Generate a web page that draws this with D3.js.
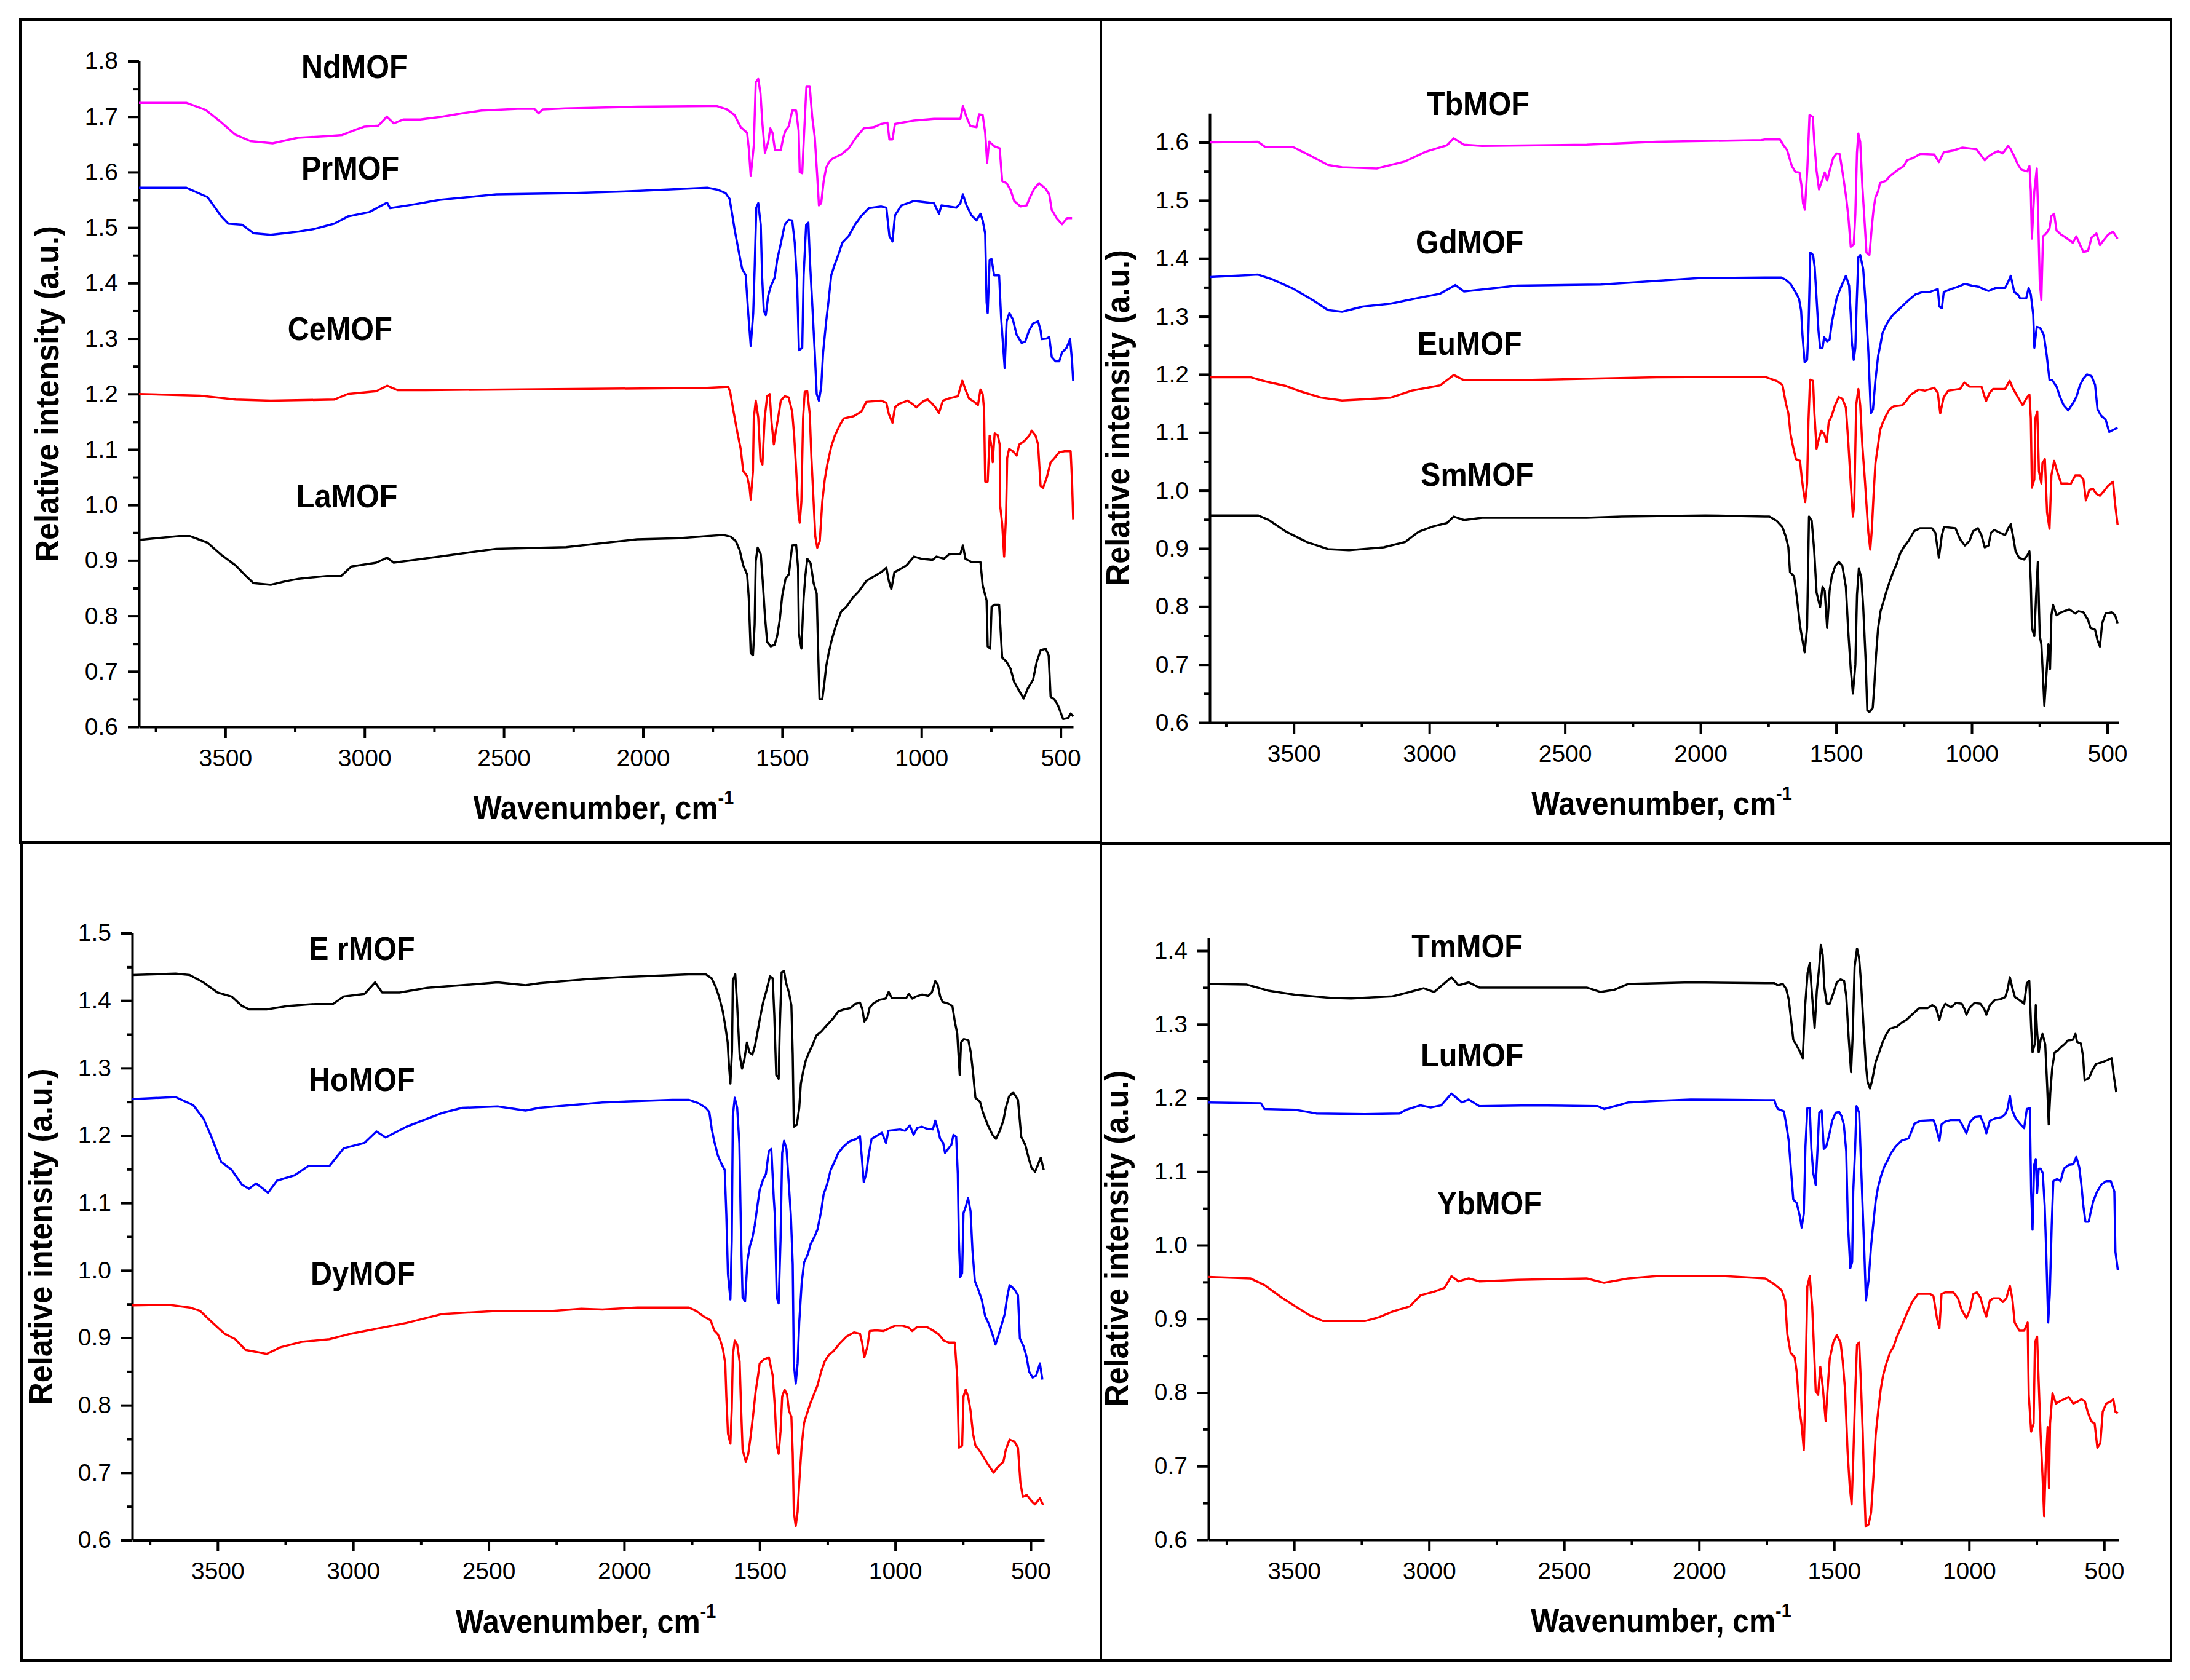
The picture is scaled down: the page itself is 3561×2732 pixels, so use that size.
<!DOCTYPE html>
<html>
<head>
<meta charset="utf-8">
<script src="https://cdn.jsdelivr.net/npm/d3@7"></script>
<style>
  body { margin: 0; background: #fff; }
  svg { display: block; }
</style>
</head>
<body>
<script>
// FTIR spectra of the lanthanide MOFs, four panels
// each series: [wavenumber (cm-1), relative intensity]

var xTicks = [3500, 3000, 2500, 2000, 1500, 1000, 500];
var xMinor = [3750, 3250, 2750, 2250, 1750, 1250, 750];
var yTicksA = [0.6, 0.7, 0.8, 0.9, 1.0, 1.1, 1.2, 1.3, 1.4, 1.5, 1.6, 1.7, 1.8];
var yTicksB = [0.6, 0.7, 0.8, 0.9, 1.0, 1.1, 1.2, 1.3, 1.4, 1.5, 1.6];
var yTicksC = [0.6, 0.7, 0.8, 0.9, 1.0, 1.1, 1.2, 1.3, 1.4, 1.5];
var yTicksD = [0.6, 0.7, 0.8, 0.9, 1.0, 1.1, 1.2, 1.3, 1.4];

var namesA = ["NdMOF", "PrMOF", "CeMOF", "LaMOF"];
var namesB = ["TbMOF", "GdMOF", "EuMOF", "SmMOF"];
var namesC = ["E rMOF", "HoMOF", "DyMOF"];
var namesD = ["TmMOF", "LuMOF", "YbMOF"];

var xTitle = "Wavenumber, cm";
var xTitleSup = "-1";
var yTitle = "Relative intensity (a.u.)";

var ndMOF = [[3810,1.725],[3640,1.725],[3570,1.712],[3515,1.690],[3465,1.668],[3410,1.656],[3330,1.652],[3240,1.662],[3130,1.665],[3080,1.667],[3040,1.675],[3000,1.682],[2950,1.684],[2920,1.700],[2895,1.688],[2860,1.695],[2800,1.695],[2720,1.700],[2650,1.706],[2580,1.711],[2450,1.714],[2390,1.714],[2375,1.706],[2360,1.713],[2280,1.715],[2020,1.718],[1770,1.719],[1734,1.719],[1698,1.713],[1671,1.703],[1649,1.681],[1626,1.671],[1620,1.643],[1613,1.593],[1602,1.648],[1595,1.762],[1586,1.768],[1578,1.742],[1571,1.687],[1562,1.635],[1550,1.655],[1543,1.679],[1535,1.671],[1526,1.640],[1505,1.640],[1496,1.663],[1488,1.675],[1476,1.683],[1464,1.711],[1450,1.711],[1441,1.675],[1437,1.600],[1428,1.598],[1422,1.663],[1413,1.754],[1401,1.754],[1392,1.699],[1383,1.663],[1374,1.592],[1368,1.540],[1360,1.544],[1351,1.584],[1342,1.608],[1333,1.617],[1320,1.624],[1288,1.632],[1261,1.643],[1234,1.663],[1207,1.679],[1171,1.681],[1144,1.687],[1122,1.689],[1115,1.659],[1104,1.659],[1095,1.687],[1027,1.693],[955,1.696],[860,1.696],[851,1.719],[838,1.699],[824,1.683],[802,1.681],[793,1.704],[780,1.703],[771,1.671],[764,1.617],[757,1.655],[739,1.647],[719,1.643],[710,1.584],[694,1.580],[680,1.568],[667,1.548],[644,1.538],[622,1.540],[609,1.556],[595,1.570],[577,1.580],[554,1.570],[541,1.560],[532,1.532],[514,1.517],[495,1.506],[477,1.517],[459,1.517]];

var prMOF = [[3810,1.572],[3641,1.572],[3564,1.555],[3514,1.520],[3489,1.507],[3439,1.505],[3399,1.490],[3337,1.487],[3287,1.490],[3236,1.493],[3185,1.497],[3109,1.507],[3060,1.520],[2983,1.528],[2919,1.545],[2908,1.535],[2831,1.541],[2730,1.550],[2527,1.560],[2276,1.562],[2022,1.566],[1769,1.572],[1730,1.568],[1703,1.562],[1689,1.552],[1680,1.525],[1671,1.497],[1662,1.473],[1653,1.449],[1644,1.426],[1631,1.414],[1622,1.346],[1613,1.287],[1604,1.346],[1599,1.426],[1593,1.536],[1586,1.544],[1577,1.505],[1572,1.410],[1566,1.350],[1559,1.342],[1550,1.378],[1541,1.394],[1527,1.410],[1518,1.442],[1506,1.469],[1491,1.505],[1477,1.514],[1464,1.513],[1455,1.473],[1446,1.394],[1440,1.279],[1428,1.283],[1423,1.414],[1414,1.505],[1406,1.509],[1400,1.437],[1392,1.362],[1383,1.275],[1376,1.200],[1368,1.188],[1360,1.212],[1353,1.275],[1342,1.331],[1333,1.370],[1324,1.414],[1311,1.434],[1297,1.453],[1284,1.473],[1261,1.485],[1239,1.505],[1216,1.521],[1189,1.535],[1144,1.538],[1126,1.536],[1115,1.485],[1104,1.475],[1095,1.522],[1072,1.540],[1027,1.548],[955,1.544],[937,1.525],[928,1.540],[874,1.536],[860,1.544],[851,1.560],[838,1.540],[820,1.522],[802,1.513],[788,1.525],[780,1.513],[771,1.489],[766,1.366],[762,1.346],[755,1.442],[748,1.443],[739,1.414],[721,1.414],[714,1.339],[705,1.275],[701,1.247],[694,1.331],[684,1.346],[672,1.335],[658,1.307],[640,1.292],[627,1.295],[613,1.315],[599,1.327],[581,1.331],[572,1.315],[568,1.299],[550,1.300],[541,1.303],[532,1.267],[518,1.259],[505,1.259],[495,1.275],[479,1.283],[466,1.299],[459,1.259],[455,1.224]];

var ceMOF = [[3810,1.200],[3590,1.197],[3463,1.190],[3337,1.188],[3109,1.190],[3060,1.200],[2958,1.205],[2919,1.215],[2882,1.207],[2780,1.207],[1769,1.211],[1694,1.213],[1687,1.204],[1676,1.172],[1662,1.133],[1649,1.101],[1640,1.061],[1626,1.052],[1617,1.030],[1613,1.010],[1605,1.061],[1602,1.156],[1595,1.188],[1586,1.158],[1578,1.081],[1571,1.073],[1563,1.156],[1554,1.196],[1545,1.200],[1538,1.148],[1530,1.109],[1523,1.133],[1515,1.156],[1505,1.188],[1491,1.196],[1477,1.194],[1464,1.168],[1457,1.125],[1450,1.065],[1441,0.982],[1437,0.968],[1431,1.006],[1425,1.156],[1419,1.204],[1410,1.205],[1401,1.164],[1395,1.085],[1388,1.014],[1381,0.943],[1374,0.923],[1365,0.935],[1356,1.006],[1347,1.046],[1338,1.073],[1324,1.105],[1311,1.125],[1293,1.144],[1279,1.156],[1243,1.160],[1216,1.168],[1198,1.186],[1144,1.188],[1126,1.184],[1117,1.164],[1104,1.148],[1095,1.176],[1081,1.182],[1050,1.188],[1032,1.182],[1018,1.176],[1005,1.182],[991,1.188],[977,1.190],[964,1.184],[950,1.176],[937,1.166],[923,1.188],[901,1.192],[869,1.196],[860,1.212],[853,1.224],[842,1.208],[829,1.192],[811,1.186],[797,1.180],[788,1.208],[780,1.200],[775,1.172],[771,1.042],[762,1.042],[755,1.125],[748,1.105],[744,1.077],[737,1.129],[726,1.126],[719,1.109],[717,0.998],[710,0.966],[703,0.907],[696,0.982],[692,1.085],[685,1.101],[672,1.097],[658,1.089],[649,1.109],[631,1.115],[613,1.125],[604,1.134],[590,1.125],[581,1.109],[572,1.034],[563,1.031],[550,1.049],[536,1.077],[523,1.084],[505,1.095],[486,1.097],[464,1.097],[459,1.042],[455,0.974]];

var laMOF = [[3810,0.937],[3666,0.944],[3628,0.944],[3564,0.932],[3514,0.910],[3463,0.891],[3426,0.872],[3399,0.859],[3337,0.856],[3287,0.862],[3236,0.867],[3135,0.872],[3084,0.872],[3047,0.889],[2958,0.896],[2919,0.905],[2895,0.896],[2730,0.907],[2527,0.921],[2276,0.924],[2022,0.938],[1871,0.940],[1769,0.944],[1712,0.946],[1685,0.943],[1667,0.935],[1653,0.919],[1640,0.891],[1626,0.875],[1620,0.832],[1613,0.733],[1605,0.729],[1599,0.784],[1595,0.899],[1588,0.923],[1577,0.911],[1570,0.863],[1562,0.800],[1554,0.753],[1541,0.745],[1527,0.748],[1518,0.764],[1509,0.792],[1500,0.836],[1488,0.867],[1476,0.875],[1464,0.927],[1450,0.928],[1443,0.887],[1440,0.768],[1431,0.741],[1423,0.832],[1417,0.871],[1410,0.903],[1398,0.895],[1387,0.859],[1376,0.840],[1370,0.721],[1366,0.650],[1356,0.650],[1349,0.677],[1342,0.709],[1333,0.733],[1322,0.757],[1311,0.776],[1302,0.790],[1288,0.808],[1270,0.816],[1248,0.832],[1225,0.844],[1198,0.863],[1171,0.871],[1144,0.879],[1126,0.887],[1117,0.863],[1108,0.848],[1097,0.879],[1081,0.883],[1054,0.891],[1027,0.907],[1000,0.903],[960,0.901],[946,0.907],[919,0.903],[901,0.911],[860,0.912],[851,0.927],[842,0.903],[820,0.897],[788,0.897],[780,0.855],[766,0.828],[762,0.745],[753,0.741],[748,0.816],[739,0.820],[721,0.820],[710,0.725],[694,0.717],[680,0.705],[667,0.681],[649,0.665],[633,0.651],[618,0.669],[599,0.685],[586,0.717],[572,0.738],[554,0.741],[543,0.729],[536,0.654],[523,0.650],[509,0.638],[491,0.614],[473,0.616],[464,0.624],[455,0.619]];

var tbMOF = [[3810,1.600],[3632,1.601],[3605,1.592],[3503,1.592],[3451,1.580],[3374,1.561],[3322,1.557],[3194,1.555],[3090,1.567],[3013,1.584],[2935,1.595],[2910,1.607],[2872,1.596],[2806,1.594],[2420,1.596],[2162,1.601],[1776,1.604],[1763,1.605],[1707,1.605],[1694,1.595],[1681,1.587],[1672,1.573],[1663,1.559],[1650,1.549],[1635,1.548],[1628,1.527],[1622,1.495],[1615,1.484],[1606,1.555],[1598,1.647],[1586,1.644],[1580,1.598],[1572,1.551],[1563,1.519],[1552,1.534],[1542,1.548],[1533,1.534],[1524,1.551],[1511,1.573],[1498,1.581],[1487,1.580],[1477,1.551],[1464,1.509],[1455,1.473],[1446,1.420],[1435,1.424],[1429,1.477],[1423,1.583],[1418,1.615],[1411,1.601],[1403,1.523],[1394,1.456],[1388,1.410],[1377,1.406],[1368,1.456],[1362,1.484],[1355,1.505],[1345,1.516],[1338,1.530],[1316,1.534],[1303,1.541],[1277,1.551],[1251,1.559],[1238,1.569],[1216,1.573],[1190,1.580],[1138,1.579],[1121,1.566],[1103,1.583],[1069,1.586],[1034,1.591],[982,1.588],[952,1.569],[938,1.576],[921,1.581],[903,1.585],[886,1.581],[865,1.594],[856,1.588],[843,1.576],[830,1.562],[817,1.553],[795,1.550],[787,1.559],[782,1.516],[778,1.434],[769,1.516],[760,1.555],[756,1.495],[749,1.360],[743,1.328],[737,1.438],[730,1.441],[722,1.445],[713,1.452],[706,1.473],[696,1.477],[687,1.448],[670,1.441],[653,1.436],[627,1.427],[614,1.438],[601,1.424],[588,1.411],[571,1.413],[558,1.436],[540,1.443],[527,1.423],[514,1.431],[497,1.441],[479,1.446],[462,1.434]];

var gdMOF = [[3810,1.368],[3632,1.372],[3580,1.364],[3503,1.348],[3426,1.327],[3374,1.311],[3322,1.308],[3245,1.317],[3142,1.322],[3039,1.332],[2961,1.339],[2904,1.354],[2872,1.343],[2677,1.353],[2368,1.355],[2008,1.366],[1763,1.367],[1702,1.367],[1685,1.363],[1668,1.356],[1650,1.342],[1637,1.331],[1629,1.310],[1624,1.268],[1616,1.221],[1607,1.225],[1602,1.275],[1595,1.410],[1585,1.406],[1579,1.385],[1572,1.331],[1565,1.275],[1559,1.246],[1550,1.246],[1544,1.264],[1533,1.257],[1524,1.260],[1516,1.289],[1507,1.310],[1498,1.331],[1487,1.345],[1477,1.356],[1464,1.370],[1452,1.353],[1446,1.303],[1442,1.257],[1435,1.225],[1429,1.246],[1424,1.324],[1418,1.402],[1411,1.406],[1400,1.381],[1391,1.321],[1381,1.239],[1372,1.133],[1364,1.140],[1355,1.190],[1345,1.232],[1336,1.253],[1329,1.271],[1319,1.282],[1307,1.292],[1290,1.303],[1264,1.314],[1242,1.324],[1225,1.331],[1207,1.338],[1181,1.342],[1155,1.342],[1125,1.347],[1119,1.317],[1110,1.314],[1103,1.342],[1077,1.347],[1051,1.351],[1025,1.356],[999,1.353],[973,1.351],[956,1.347],[938,1.344],[912,1.349],[877,1.349],[865,1.360],[856,1.370],[843,1.342],[830,1.338],[821,1.331],[799,1.331],[790,1.349],[782,1.338],[773,1.303],[769,1.246],[760,1.282],[747,1.280],[734,1.268],[723,1.232],[713,1.190],[703,1.190],[687,1.179],[674,1.161],[661,1.147],[644,1.138],[627,1.150],[614,1.161],[601,1.181],[588,1.193],[575,1.200],[558,1.197],[545,1.182],[536,1.140],[523,1.129],[506,1.122],[493,1.101],[480,1.104],[462,1.108]];

var euMOF = [[3810,1.195],[3658,1.195],[3605,1.188],[3528,1.180],[3477,1.171],[3400,1.160],[3322,1.155],[3245,1.157],[3142,1.160],[3065,1.172],[2961,1.181],[2910,1.199],[2872,1.190],[2677,1.190],[2162,1.195],[1763,1.196],[1720,1.189],[1698,1.182],[1685,1.150],[1676,1.133],[1668,1.097],[1659,1.076],[1648,1.054],[1633,1.051],[1626,1.019],[1620,0.998],[1614,0.980],[1607,1.012],[1602,1.118],[1596,1.191],[1585,1.189],[1580,1.133],[1572,1.072],[1563,1.090],[1555,1.103],[1544,1.098],[1535,1.083],[1527,1.118],[1516,1.129],[1504,1.147],[1490,1.161],[1477,1.158],[1464,1.143],[1455,1.083],[1446,1.012],[1438,0.955],[1433,0.976],[1426,1.147],[1418,1.175],[1411,1.147],[1403,1.076],[1394,1.019],[1388,0.976],[1381,0.927],[1374,0.898],[1368,0.934],[1362,0.991],[1355,1.047],[1346,1.076],[1338,1.104],[1327,1.118],[1316,1.129],[1303,1.140],[1287,1.145],[1255,1.147],[1242,1.154],[1225,1.165],[1195,1.174],[1173,1.172],[1138,1.177],[1125,1.168],[1116,1.133],[1103,1.161],[1086,1.172],[1043,1.175],[1027,1.186],[1008,1.179],[964,1.179],[947,1.154],[934,1.168],[921,1.175],[877,1.175],[860,1.189],[847,1.175],[830,1.161],[812,1.147],[795,1.161],[787,1.165],[782,1.125],[778,1.005],[769,1.019],[765,1.125],[758,1.136],[752,1.033],[743,1.012],[739,1.047],[730,1.054],[722,0.962],[713,0.934],[706,1.026],[696,1.051],[683,1.030],[670,1.012],[648,1.012],[635,1.011],[618,1.026],[601,1.026],[588,1.019],[579,0.983],[566,1.001],[553,1.003],[540,0.994],[527,0.991],[514,0.998],[497,1.008],[479,1.015],[471,0.976],[462,0.941]];

var smMOF = [[3810,0.957],[3632,0.957],[3592,0.949],[3528,0.929],[3451,0.911],[3374,0.899],[3296,0.897],[3168,0.902],[3090,0.911],[3039,0.929],[2987,0.938],[2935,0.944],[2910,0.955],[2872,0.949],[2806,0.953],[2420,0.953],[2291,0.955],[1982,0.957],[1763,0.955],[1746,0.955],[1720,0.948],[1698,0.937],[1685,0.920],[1676,0.902],[1670,0.859],[1655,0.852],[1644,0.813],[1633,0.767],[1624,0.742],[1616,0.721],[1607,0.763],[1600,0.955],[1590,0.948],[1581,0.898],[1572,0.824],[1559,0.799],[1550,0.834],[1542,0.827],[1533,0.763],[1524,0.827],[1516,0.852],[1503,0.870],[1490,0.877],[1477,0.870],[1464,0.834],[1455,0.756],[1446,0.692],[1438,0.650],[1429,0.700],[1423,0.820],[1416,0.866],[1407,0.849],[1400,0.799],[1391,0.707],[1385,0.621],[1377,0.618],[1365,0.625],[1359,0.664],[1353,0.714],[1345,0.763],[1336,0.792],[1327,0.806],[1316,0.824],[1303,0.842],[1290,0.859],[1277,0.873],[1264,0.891],[1251,0.902],[1233,0.913],[1212,0.930],[1190,0.935],[1147,0.935],[1134,0.927],[1121,0.884],[1110,0.923],[1102,0.937],[1060,0.935],[1043,0.916],[1025,0.905],[1008,0.913],[995,0.930],[977,0.935],[964,0.923],[952,0.902],[938,0.905],[929,0.927],[917,0.932],[895,0.927],[877,0.923],[865,0.935],[856,0.942],[847,0.920],[838,0.895],[825,0.884],[807,0.881],[795,0.888],[787,0.895],[782,0.842],[778,0.763],[769,0.749],[763,0.813],[756,0.877],[749,0.749],[743,0.735],[737,0.678],[732,0.629],[726,0.671],[717,0.735],[711,0.692],[706,0.785],[700,0.803],[687,0.785],[670,0.790],[640,0.795],[618,0.788],[606,0.792],[588,0.790],[571,0.777],[562,0.763],[545,0.760],[536,0.742],[527,0.731],[519,0.771],[506,0.788],[484,0.790],[471,0.785],[462,0.771]];

var erMOF = [[3815,1.438],[3655,1.440],[3603,1.438],[3552,1.427],[3500,1.412],[3448,1.406],[3410,1.392],[3384,1.387],[3319,1.387],[3242,1.392],[3139,1.395],[3074,1.395],[3035,1.406],[2958,1.410],[2919,1.427],[2893,1.412],[2829,1.412],[2725,1.419],[2467,1.427],[2364,1.423],[2312,1.426],[2132,1.432],[2003,1.435],[1762,1.439],[1699,1.439],[1677,1.433],[1663,1.421],[1650,1.406],[1636,1.384],[1626,1.360],[1618,1.338],[1614,1.308],[1608,1.277],[1602,1.326],[1599,1.430],[1590,1.439],[1583,1.393],[1574,1.320],[1565,1.299],[1556,1.314],[1547,1.338],[1538,1.323],[1527,1.320],[1518,1.332],[1509,1.351],[1497,1.378],[1488,1.396],[1475,1.415],[1462,1.436],[1452,1.433],[1446,1.378],[1439,1.290],[1430,1.284],[1426,1.357],[1419,1.442],[1410,1.444],[1403,1.427],[1392,1.412],[1383,1.393],[1378,1.320],[1374,1.213],[1363,1.216],[1354,1.241],[1348,1.277],[1339,1.296],[1330,1.311],[1318,1.323],[1304,1.335],[1291,1.348],[1273,1.354],[1260,1.360],[1246,1.366],[1228,1.374],[1210,1.384],[1188,1.387],[1165,1.389],[1148,1.395],[1130,1.397],[1121,1.387],[1114,1.369],[1103,1.375],[1094,1.390],[1080,1.396],[1058,1.401],[1035,1.403],[1024,1.413],[1013,1.404],[982,1.404],[959,1.404],[950,1.410],[937,1.403],[923,1.406],[901,1.409],[878,1.407],[865,1.412],[852,1.429],[843,1.424],[834,1.406],[825,1.398],[807,1.396],[789,1.392],[780,1.369],[771,1.351],[762,1.290],[757,1.338],[747,1.343],[730,1.341],[721,1.323],[712,1.290],[704,1.256],[687,1.250],[677,1.235],[659,1.216],[641,1.201],[628,1.195],[614,1.207],[601,1.222],[592,1.241],[580,1.258],[565,1.264],[547,1.253],[535,1.198],[520,1.186],[508,1.167],[497,1.152],[484,1.146],[475,1.155],[463,1.167],[452,1.149]];

var hoMOF = [[3815,1.254],[3655,1.257],[3590,1.245],[3552,1.225],[3526,1.201],[3487,1.161],[3448,1.149],[3410,1.127],[3384,1.121],[3358,1.129],[3332,1.121],[3314,1.115],[3281,1.133],[3216,1.141],[3164,1.155],[3087,1.155],[3035,1.181],[2958,1.189],[2914,1.206],[2880,1.197],[2803,1.213],[2674,1.233],[2597,1.241],[2467,1.243],[2364,1.237],[2312,1.241],[2080,1.249],[1822,1.253],[1762,1.253],[1726,1.248],[1699,1.241],[1686,1.235],[1677,1.210],[1668,1.192],[1654,1.170],[1641,1.158],[1629,1.149],[1623,1.082],[1617,0.994],[1608,0.957],[1603,1.045],[1599,1.229],[1592,1.256],[1583,1.241],[1575,1.189],[1569,1.055],[1563,0.960],[1554,0.954],[1545,1.015],[1536,1.036],[1527,1.048],[1518,1.067],[1509,1.094],[1500,1.119],[1488,1.134],[1477,1.143],[1466,1.177],[1457,1.180],[1448,1.107],[1444,1.082],[1437,0.960],[1430,0.951],[1423,1.045],[1417,1.174],[1410,1.192],[1401,1.180],[1392,1.125],[1385,1.082],[1378,1.009],[1374,0.862],[1367,0.832],[1360,0.862],[1354,0.923],[1345,0.981],[1336,1.012],[1322,1.024],[1312,1.039],[1300,1.048],[1287,1.060],[1273,1.088],[1264,1.113],[1251,1.128],[1238,1.149],[1224,1.161],[1210,1.174],[1192,1.183],[1170,1.191],[1143,1.195],[1130,1.199],[1123,1.167],[1116,1.131],[1107,1.143],[1098,1.171],[1087,1.195],[1062,1.201],[1049,1.204],[1034,1.189],[1025,1.207],[982,1.209],[964,1.207],[946,1.215],[932,1.201],[919,1.211],[901,1.213],[883,1.210],[861,1.209],[852,1.222],[843,1.210],[834,1.195],[823,1.189],[816,1.174],[807,1.179],[793,1.186],[785,1.201],[775,1.198],[769,1.143],[765,1.045],[760,0.990],[753,0.996],[748,1.085],[740,1.094],[731,1.107],[722,1.088],[715,1.030],[706,0.984],[695,0.973],[681,0.957],[668,0.932],[654,0.920],[641,0.905],[630,0.890],[618,0.905],[609,0.917],[596,0.935],[587,0.960],[578,0.978],[560,0.972],[547,0.963],[540,0.899],[526,0.887],[515,0.871],[506,0.850],[493,0.841],[480,0.844],[466,0.862],[457,0.838]];

var dyMOF = [[3815,0.948],[3681,0.949],[3603,0.945],[3565,0.940],[3526,0.925],[3474,0.906],[3435,0.898],[3397,0.882],[3319,0.876],[3268,0.886],[3190,0.894],[3087,0.898],[3009,0.906],[2906,0.914],[2803,0.922],[2674,0.935],[2467,0.940],[2261,0.940],[2158,0.943],[2080,0.942],[1951,0.945],[1762,0.945],[1735,0.940],[1708,0.932],[1681,0.926],[1668,0.911],[1654,0.905],[1645,0.896],[1636,0.884],[1627,0.862],[1623,0.813],[1617,0.758],[1608,0.743],[1603,0.795],[1599,0.874],[1592,0.896],[1583,0.890],[1574,0.865],[1569,0.801],[1563,0.734],[1551,0.716],[1542,0.728],[1533,0.755],[1524,0.786],[1515,0.820],[1506,0.844],[1500,0.862],[1484,0.868],[1466,0.871],[1452,0.844],[1444,0.798],[1437,0.740],[1430,0.728],[1423,0.761],[1417,0.813],[1408,0.823],[1399,0.816],[1392,0.792],[1383,0.783],[1378,0.728],[1374,0.642],[1367,0.621],[1360,0.642],[1354,0.685],[1345,0.740],[1336,0.774],[1322,0.792],[1312,0.804],[1300,0.816],[1287,0.829],[1273,0.850],[1260,0.865],[1246,0.874],[1228,0.880],[1206,0.891],[1179,0.902],[1152,0.908],[1130,0.906],[1122,0.893],[1114,0.871],[1103,0.886],[1094,0.910],[1071,0.911],[1044,0.910],[1022,0.914],[1000,0.918],[973,0.918],[950,0.915],[937,0.910],[919,0.916],[883,0.916],[861,0.911],[839,0.905],[821,0.896],[803,0.893],[780,0.893],[771,0.841],[765,0.737],[753,0.740],[748,0.813],[740,0.823],[731,0.813],[722,0.792],[713,0.758],[704,0.740],[691,0.734],[677,0.725],[659,0.713],[637,0.700],[618,0.710],[601,0.716],[592,0.734],[578,0.749],[560,0.746],[547,0.737],[538,0.685],[529,0.664],[515,0.667],[497,0.658],[484,0.653],[466,0.662],[454,0.652]];

var tmMOF = [[3817,1.355],[3675,1.354],[3598,1.346],[3495,1.340],[3366,1.336],[3289,1.335],[3135,1.338],[3071,1.344],[3020,1.349],[2981,1.344],[2917,1.364],[2891,1.353],[2853,1.357],[2814,1.350],[2416,1.350],[2365,1.344],[2313,1.347],[2262,1.355],[2031,1.357],[1755,1.356],[1721,1.356],[1708,1.353],[1690,1.355],[1677,1.348],[1668,1.334],[1660,1.309],[1651,1.279],[1638,1.271],[1625,1.262],[1616,1.254],[1607,1.326],[1598,1.370],[1590,1.383],[1581,1.337],[1572,1.295],[1564,1.345],[1555,1.378],[1549,1.408],[1542,1.394],[1536,1.350],[1527,1.328],[1516,1.328],[1503,1.342],[1490,1.357],[1476,1.361],[1463,1.359],[1455,1.339],[1446,1.282],[1437,1.235],[1431,1.285],[1424,1.378],[1415,1.403],[1407,1.389],[1400,1.356],[1391,1.298],[1383,1.249],[1376,1.222],[1367,1.213],[1359,1.224],[1346,1.249],[1333,1.262],[1320,1.276],[1306,1.287],[1293,1.294],[1267,1.297],[1250,1.302],[1232,1.306],[1215,1.312],[1197,1.318],[1184,1.322],[1154,1.322],[1136,1.326],[1123,1.323],[1110,1.306],[1100,1.320],[1088,1.328],[1067,1.323],[1049,1.329],[1027,1.328],[1016,1.320],[1010,1.313],[997,1.323],[980,1.329],[958,1.328],[943,1.320],[936,1.313],[923,1.326],[905,1.333],[884,1.334],[866,1.337],[857,1.348],[849,1.364],[840,1.350],[830,1.337],[814,1.333],[796,1.328],[786,1.356],[777,1.359],[770,1.295],[765,1.262],[757,1.273],[753,1.326],[748,1.290],[742,1.262],[735,1.279],[728,1.287],[718,1.273],[711,1.219],[705,1.164],[699,1.208],[692,1.241],[683,1.262],[670,1.265],[660,1.269],[647,1.273],[634,1.278],[616,1.279],[606,1.287],[600,1.276],[586,1.274],[578,1.257],[572,1.224],[556,1.227],[543,1.238],[530,1.246],[504,1.249],[472,1.254],[464,1.230],[455,1.208]];

var luMOF = [[3817,1.194],[3623,1.193],[3610,1.185],[3495,1.184],[3418,1.179],[3238,1.178],[3110,1.179],[3084,1.184],[3032,1.190],[2994,1.187],[2955,1.190],[2917,1.206],[2878,1.194],[2853,1.198],[2814,1.189],[2621,1.190],[2377,1.189],[2352,1.185],[2300,1.190],[2262,1.194],[2159,1.196],[2031,1.198],[1755,1.197],[1721,1.197],[1716,1.191],[1708,1.185],[1686,1.182],[1677,1.164],[1668,1.142],[1660,1.104],[1651,1.062],[1638,1.057],[1626,1.038],[1620,1.024],[1612,1.043],[1606,1.134],[1599,1.186],[1590,1.186],[1584,1.131],[1577,1.098],[1568,1.082],[1562,1.125],[1555,1.180],[1546,1.183],[1538,1.131],[1529,1.134],[1518,1.150],[1507,1.169],[1494,1.180],[1481,1.181],[1472,1.175],[1464,1.164],[1455,1.128],[1449,1.032],[1440,0.969],[1433,0.977],[1429,1.073],[1422,1.131],[1417,1.189],[1407,1.180],[1400,1.109],[1394,1.049],[1388,0.991],[1382,0.925],[1372,0.953],[1363,0.999],[1354,1.032],[1346,1.060],[1337,1.079],[1327,1.093],[1315,1.106],[1302,1.115],[1289,1.125],[1272,1.134],[1250,1.142],[1224,1.145],[1215,1.153],[1202,1.165],[1180,1.169],[1132,1.170],[1123,1.161],[1110,1.142],[1102,1.164],[1088,1.168],[1067,1.170],[1036,1.170],[1022,1.161],[1010,1.152],[997,1.167],[980,1.174],[958,1.175],[945,1.164],[936,1.152],[923,1.169],[905,1.172],[879,1.174],[866,1.178],[857,1.186],[849,1.203],[840,1.183],[827,1.172],[809,1.164],[796,1.159],[786,1.185],[775,1.186],[770,1.071],[765,1.021],[759,1.109],[753,1.117],[748,1.071],[742,1.104],[735,1.104],[727,1.098],[720,1.054],[714,0.988],[707,0.895],[701,0.934],[694,1.027],[688,1.087],[674,1.090],[661,1.087],[649,1.104],[631,1.109],[614,1.110],[603,1.120],[592,1.106],[584,1.082],[577,1.054],[569,1.032],[557,1.032],[549,1.046],[540,1.060],[526,1.073],[509,1.083],[492,1.087],[475,1.087],[462,1.073],[458,0.991],[449,0.966]];

var ybMOF = [[3817,0.957],[3662,0.955],[3610,0.946],[3546,0.929],[3495,0.917],[3443,0.905],[3392,0.897],[3238,0.897],[3187,0.902],[3135,0.910],[3071,0.917],[3032,0.932],[2981,0.937],[2943,0.942],[2917,0.958],[2891,0.951],[2853,0.955],[2814,0.951],[2673,0.953],[2416,0.955],[2352,0.949],[2262,0.955],[2159,0.958],[1902,0.958],[1755,0.955],[1721,0.947],[1694,0.939],[1681,0.925],[1673,0.879],[1661,0.854],[1646,0.848],[1638,0.827],[1629,0.780],[1620,0.755],[1612,0.722],[1606,0.810],[1599,0.944],[1590,0.958],[1581,0.917],[1574,0.857],[1568,0.802],[1559,0.797],[1551,0.835],[1542,0.808],[1531,0.761],[1525,0.799],[1516,0.846],[1503,0.868],[1490,0.878],[1476,0.868],[1468,0.843],[1459,0.802],[1450,0.720],[1442,0.673],[1435,0.648],[1429,0.709],[1422,0.797],[1415,0.865],[1407,0.868],[1400,0.808],[1394,0.747],[1389,0.681],[1383,0.618],[1372,0.621],[1363,0.637],[1354,0.687],[1346,0.742],[1335,0.780],[1327,0.805],[1318,0.824],[1306,0.840],[1293,0.854],[1280,0.862],[1267,0.876],[1250,0.890],[1232,0.906],[1211,0.923],[1189,0.934],[1145,0.934],[1132,0.931],[1119,0.901],[1110,0.887],[1102,0.934],[1088,0.936],[1058,0.936],[1041,0.928],[1027,0.912],[1010,0.901],[997,0.912],[984,0.934],[971,0.936],[958,0.929],[945,0.912],[936,0.903],[923,0.925],[910,0.928],[888,0.928],[875,0.923],[862,0.928],[849,0.945],[840,0.928],[831,0.895],[814,0.884],[796,0.884],[783,0.895],[779,0.797],[770,0.747],[761,0.758],[756,0.868],[748,0.876],[742,0.813],[735,0.742],[728,0.687],[722,0.632],[716,0.703],[709,0.753],[704,0.670],[700,0.758],[691,0.799],[678,0.785],[665,0.788],[648,0.791],[631,0.794],[614,0.785],[597,0.788],[584,0.791],[571,0.788],[561,0.774],[548,0.761],[535,0.758],[525,0.725],[514,0.731],[505,0.774],[492,0.785],[475,0.788],[466,0.791],[458,0.774],[449,0.772]];

// ---- layout / styling ----
var W = 3561, H = 2732;
var FONT = "'Liberation Sans', Arial, Helvetica, sans-serif";
var MAG = "#ff00ff", BLU = "#0000ff", RED = "#ff0000", BLK = "#000000";

var panels = [
  { box: [33, 32, 1790, 1370], xDom: [3810, 455], xPx: [226, 1745], yRef: 1.8, yRefPx: 99.5, y06: 1182, yMax: 1.8,
    yTicks: yTicksA, names: namesA, series: [ndMOF, prMOF, ceMOF, laMOF], colors: [MAG, BLU, RED, BLK],
    labelAt: [[3227, 1.770], [3227, 1.587], [3276, 1.297], [3245, 0.996]] },
  { box: [1790, 32, 3530, 1372], xDom: [3810, 458], xPx: [1967, 3445], yRef: 1.6, yRefPx: 231.5, y06: 1175, yMax: 1.65,
    yTicks: yTicksB, names: namesB, series: [tbMOF, gdMOF, euMOF, smMOF], colors: [MAG, BLU, RED, BLK],
    labelAt: [[3010, 1.647], [3050, 1.409], [3044, 1.234], [3032, 1.008]] },
  { box: [35, 1370, 1790, 2700], xDom: [3815, 450], xPx: [215, 1698], yRef: 1.5, yRefPx: 1517.5, y06: 2504.5, yMax: 1.5,
    yTicks: yTicksC, names: namesC, series: [erMOF, hoMOF, dyMOF], colors: [BLK, BLU, RED],
    labelAt: [[3164, 1.460], [3164, 1.266], [3157, 0.979]] },
  { box: [1790, 1372, 3530, 2700], xDom: [3817, 446], xPx: [1965, 3445], yRef: 1.4, yRefPx: 1546, y06: 2504, yMax: 1.418,
    yTicks: yTicksD, names: namesD, series: [tmMOF, luMOF, ybMOF], colors: [BLK, BLU, RED],
    labelAt: [[3065, 1.391], [3031, 1.243], [2970, 1.042]] }
];

var svg = d3.select("body").append("svg")
  .attr("width", W).attr("height", H)
  .attr("viewBox", "0 0 " + W + " " + H);

svg.append("rect").attr("width", W).attr("height", H).attr("fill", "#fff");

panels.forEach(function(p) {
  var g = svg.append("g");

  // frame round each panel
  g.append("rect")
    .attr("x", p.box[0]).attr("y", p.box[1])
    .attr("width", p.box[2] - p.box[0]).attr("height", p.box[3] - p.box[1])
    .attr("fill", "none").attr("stroke", "#000").attr("stroke-width", 4);

  var pxPerUnit = (p.y06 - p.yRefPx) / (p.yRef - 0.6);
  var x = d3.scaleLinear().domain(p.xDom).range(p.xPx);
  var y = d3.scaleLinear().domain([0.6, p.yMax]).range([p.y06, p.y06 - (p.yMax - 0.6) * pxPerUnit]);

  var x0 = p.xPx[0];
  var yMinor = d3.pairs(p.yTicks).map(function(d) { return (d[0] + d[1]) / 2; });

  // x axis
  var xa = g.append("g").attr("transform", "translate(0," + p.y06 + ")")
    .call(d3.axisBottom(x).tickValues(xTicks).tickSize(18).tickSizeOuter(0).tickPadding(18)
      .tickFormat(d3.format("d")));
  g.append("g").attr("transform", "translate(0," + p.y06 + ")")
    .call(d3.axisBottom(x).tickValues(xMinor).tickSize(8).tickSizeOuter(0).tickFormat(""))
    .call(function(s) { s.select(".domain").remove(); });

  // y axis
  var ya = g.append("g").attr("transform", "translate(" + x0 + ",0)")
    .call(d3.axisLeft(y).tickValues(p.yTicks).tickSize(18).tickSizeOuter(0).tickPadding(16)
      .tickFormat(d3.format(".1f")));
  g.append("g").attr("transform", "translate(" + x0 + ",0)")
    .call(d3.axisLeft(y).tickValues(yMinor).tickSize(9).tickSizeOuter(0).tickFormat(""))
    .call(function(s) { s.select(".domain").remove(); });

  g.selectAll(".domain").attr("stroke", "#000").attr("stroke-width", 4);
  g.selectAll(".tick line").attr("stroke", "#000").attr("stroke-width", 4);
  [xa, ya].forEach(function(a) {
    a.attr("font-size", null).attr("font-family", null);
    a.selectAll("text").attr("font-size", 39).attr("font-family", FONT).attr("fill", "#000");
  });

  // axis titles
  var xt = g.append("text")
    .attr("transform", "translate(" + ((p.xPx[0] + p.xPx[1]) / 2 - 4) + "," + (p.y06 + 150) + ") scale(0.9,1)")
    .attr("text-anchor", "middle")
    .attr("font-family", FONT).attr("font-weight", "bold").attr("font-size", 54)
    .text(xTitle);
  xt.append("tspan").attr("dy", -24).attr("font-size", 32).text(xTitleSup);

  g.append("text")
    .attr("transform", "translate(" + (x0 - 131) + "," + ((p.y06 + y(p.yMax)) / 2) + ") rotate(-90) scale(0.93,1)")
    .attr("text-anchor", "middle")
    .attr("font-family", FONT).attr("font-weight", "bold").attr("font-size", 54)
    .text(yTitle);

  // spectra
  var line = d3.line()
    .x(function(d) { return x(d[0]); })
    .y(function(d) { return y(d[1]); });

  p.series.forEach(function(s, i) {
    g.append("path")
      .datum(s)
      .attr("d", line)
      .attr("fill", "none")
      .attr("stroke", p.colors[i])
      .attr("stroke-width", 3.5)
      .attr("stroke-linejoin", "round");
  });

  // series names
  p.names.forEach(function(n, i) {
    g.append("text")
      .attr("transform", "translate(" + x(p.labelAt[i][0]) + "," + y(p.labelAt[i][1]) + ") scale(0.9,1)")
      .attr("font-family", FONT).attr("font-weight", "bold").attr("font-size", 54)
      .attr("fill", "#000")
      .text(n);
  });
});
</script>
</body>
</html>
